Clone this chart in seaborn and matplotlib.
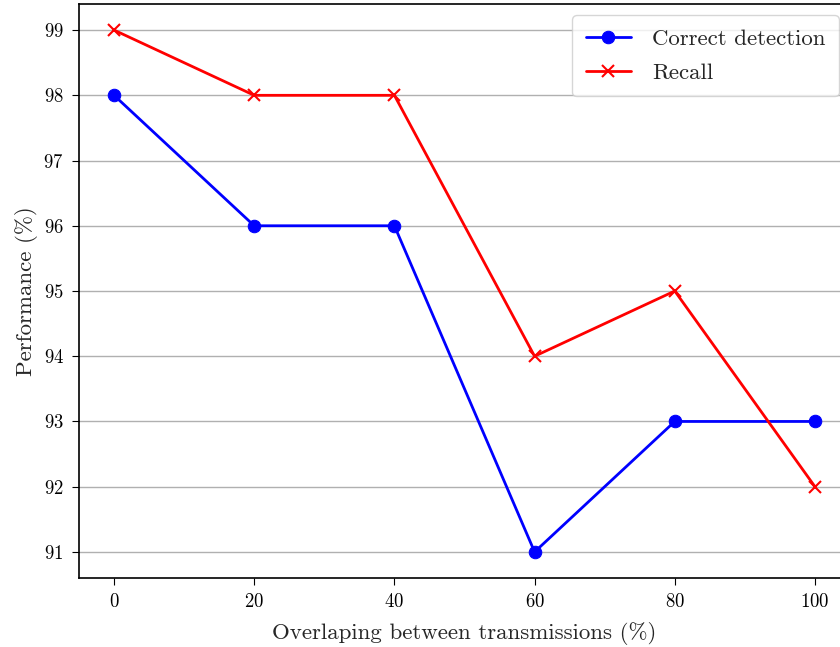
import matplotlib
matplotlib.use("Agg")
import matplotlib.pyplot as plt
import seaborn as sns
import pandas as pd

overlap = [0, 20, 40, 60, 80, 100]
correct_detection = [98, 96, 96, 91, 93, 93]
recall = [99, 98, 98, 94, 95, 92]
yticks = [91, 92, 93, 94, 95, 96, 97, 98, 99]
xticks = [0, 20, 40, 60, 80, 100]

sns.set_style("ticks")
plt.rcParams['font.family'] = 'serif'
plt.rcParams['font.serif'] = ['cmr10', 'DejaVu Serif']
plt.rcParams['axes.formatter.use_mathtext'] = True
plt.rcParams['mathtext.fontset'] = 'cm'

fig = plt.figure(figsize=(8.4, 6.47), dpi=100)
ax = fig.add_axes([79/840, 1-578/647, (850-79)/840, (578-4)/647])

df = pd.DataFrame({"x": overlap, "cd": correct_detection, "rc": recall})
sns.lineplot(data=df, x="x", y="cd", ax=ax, color="blue", marker="o", markersize=9,
             markeredgecolor="blue", linewidth=2, label="Correct detection")
sns.lineplot(data=df, x="x", y="rc", ax=ax, color="red", marker="x", markersize=9,
             markeredgecolor="red", markeredgewidth=1.5, linewidth=2, label="Recall")

ax.set_xticks(xticks)
ax.set_yticks(yticks)
ax.set_xlim(-5, 105)
ax.set_ylim(90.6, 99.4)
ax.yaxis.grid(True, color="#b0b0b0", linewidth=1)
ax.xaxis.grid(False)
ax.set_axisbelow(True)
for s in ax.spines.values():
    s.set_visible(True)
    s.set_color("black")
    s.set_linewidth(1.2)
ax.tick_params(axis="both", labelsize=13.5, direction="out", length=5, color="black",
               colors="black", pad=6)
ax.set_xlabel("Overlaping between transmissions (%)", fontsize=16.5, labelpad=8)
ax.set_ylabel("Performance (%)", fontsize=16.5, labelpad=4)
ax.legend(loc="upper right", fontsize=16.5, frameon=True, fancybox=True, framealpha=0.8,
          edgecolor="#cccccc", borderaxespad=0.5, borderpad=0.57, labelspacing=0.63,
          handletextpad=0.9)

fig.savefig("out.png", dpi=100)
